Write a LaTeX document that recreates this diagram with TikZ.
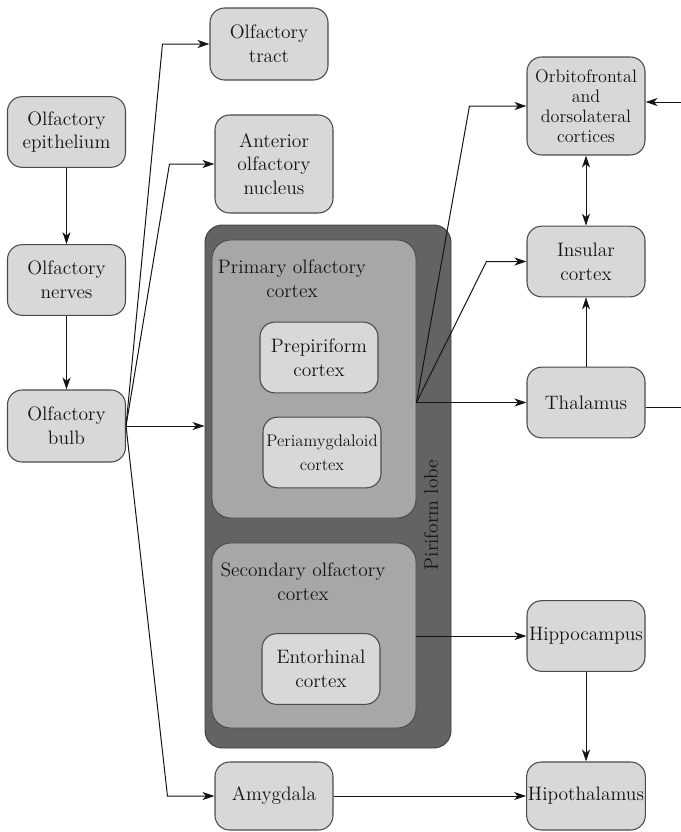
\documentclass[tikz,border=0pt]{standalone}
\usepackage{fontspec}
\usetikzlibrary{arrows.meta, positioning, calc}
\definecolor{boxgray}{HTML}{D8D8D8}
\definecolor{midgray}{HTML}{A7A7A8}
\definecolor{lobegray}{HTML}{636365}
\definecolor{edgegray}{HTML}{4A4A4A}
\definecolor{inkgray}{HTML}{141414}

\begin{document}
\begin{tikzpicture}[x=0.75pt, y=-0.75pt,
  >={Stealth[length=9pt, width=6pt, inset=2.6pt]},
  region/.style={draw=edgegray, line width=0.8pt, fill=boxgray, rounded corners=11pt,
    minimum width=88.5pt, minimum height=53pt, align=center, inner sep=1pt,
    font=\fontsize{14.6}{17.8}\selectfont, text=inkgray},
  cortex/.style={draw=edgegray, line width=0.7pt, fill=midgray, rounded corners=14pt,
    minimum width=153pt},
  lobe/.style={draw=edgegray!80!black, line width=0.7pt, fill=lobegray, rounded corners=13pt,
    minimum width=184.5pt, minimum height=392.25pt},
  caption/.style={align=center, inner sep=0pt, font=\fontsize{14.6}{17.8}\selectfont, text=inkgray},
  arr/.style={->, line width=0.75pt, inkgray},
]

\clip (0,0) rectangle (681,832);

% Left column
\node[region] (epith) at (66.5,132) {Olfactory\\epithelium};
\node[region] (nerves) at (66.5,280) {Olfactory\\nerves};
\node[region, minimum height=54pt] (bulb) at (66.5,426) {Olfactory\\bulb};

% Second column
\node[region, minimum height=54pt] (tract) at (269,44) {Olfactory\\tract};
\node[region, minimum height=73.5pt] (anterior) at (274,164) {Anterior\\olfactory\\nucleus};

% Piriform lobe
\node[lobe] (lobe) at (328,486.5) {};
\node[cortex, minimum height=208.5pt] (primary) at (314,379) {};
\node[cortex, minimum height=138.75pt] (secondary) at (314,635.5) {};
\node[caption] (primlabel) at (292,279) {Primary olfactory\\cortex};
\node[caption] (seclabel) at (303,582) {Secondary olfactory\\cortex};
\node[region] (prepir) at (319,357.5) {Prepiriform\\cortex};
\node[region, font=\fontsize{12.6}{15}\selectfont] (periam) at (322,452.5) {Periamygdaloid\\[3pt]cortex};
\node[region] (entor) at (321,669) {Entorhinal\\cortex};
\node[caption, rotate=90] (lobelabel) at (431,515) {Piriform lobe};

\node[region, minimum height=51pt] (amyg) at (274,796) {Amygdala};

% Right column
\node[region, minimum height=73.5pt, font=\fontsize{13.5}{15}\selectfont] (orbito) at (586,106)
  {Orbitofrontal\\and\\dorsolateral\\cortices};
\node[region] (insular) at (586,261.5) {Insular\\cortex};
\node[region] (thal) at (586,402.5) {Thalamus};
\node[region] (hippo) at (586,636) {Hippocampus};
\node[region, minimum height=51pt] (hipoth) at (586,796) {Hipothalamus};

% Connectors: left column
\draw[arr] (epith) -- (nerves);
\draw[arr] (nerves) -- (bulb);

% Fan out of the bulb
\draw[arr] (bulb.east) -- (bulb.east -| lobe.west);
\draw[arr] (bulb.east) -- ($(tract.west)+(-47,0)$) -- (tract.west);
\draw[arr] (bulb.east) -- ($(anterior.west)+(-45,0)$) -- (anterior.west);
\draw[arr] (bulb.east) -- ($(amyg.west)+(-47,0)$) -- (amyg.west);

% Fan out of the primary cortex
\coordinate (primout) at (primary.east |- thal.west);
\draw[arr] (primout) -- (thal.west);
\draw[arr] (primout) -- ($(orbito.west)+(-57,0)$) -- (orbito.west);
\draw[arr] (primout) -- ($(insular.west)+(-40,0)$) -- (insular.west);
\draw[arr] (secondary.east |- hippo.west) -- (hippo.west);

% Right column
\draw[arr, <->] (orbito) -- (insular);
\draw[arr] (thal) -- (insular);
\draw[arr] ([yshift=-4pt]thal.east) -- ++(60,0) |- ([yshift=3pt]orbito.east);
\draw[arr] (hippo) -- (hipoth);
\draw[arr] (amyg) -- (hipoth);

\end{tikzpicture}
\end{document}
